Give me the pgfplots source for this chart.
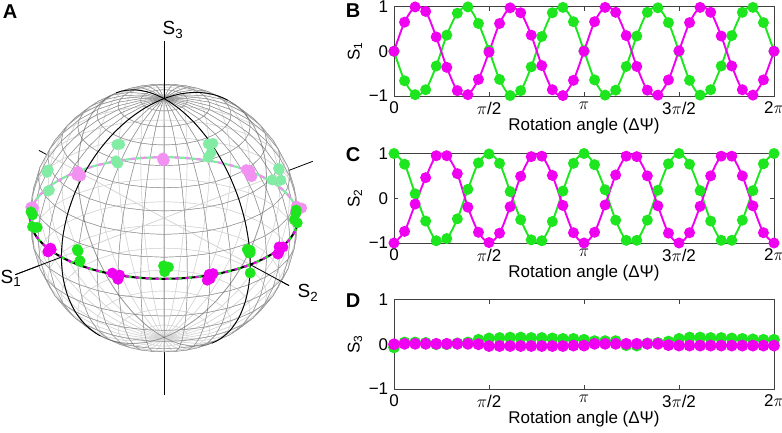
\documentclass[border=0pt]{standalone}
\usepackage{fontspec}
\setmainfont{Liberation Sans}
\usepackage{pgfplots}
\usepackage{pgfplotstable}
\pgfplotsset{compat=1.18}
\definecolor{gr}{RGB}{30,230,30}
\definecolor{mg}{RGB}{240,0,240}
\definecolor{pgr}{RGB}{130,236,165}
\definecolor{pmg}{RGB}{242,145,242}

\pgfplotstableread{
x s1g s2g s3g s1m s2m s3m
0 0.00 1.00 -0.07 0.00 -1.00 0.00
10 -0.66 0.76 0.04 0.65 -0.74 0.01
20 -0.97 0.10 0.04 0.99 -0.13 0.01
30 -0.86 -0.51 0.03 0.89 0.46 0.01
40 -0.33 -0.95 0.00 0.32 0.95 0.01
50 0.36 -0.90 0.00 -0.36 0.95 0.01
60 0.85 -0.46 0.02 -0.88 0.55 0.01
70 0.99 0.20 0.04 -0.97 -0.20 0.01
80 0.62 0.79 0.10 -0.63 -0.76 0.00
90 0.02 0.99 0.13 -0.02 -0.99 -0.04
100 -0.63 0.78 0.14 0.62 -0.78 -0.04
110 -0.99 0.15 0.15 0.97 -0.19 -0.04
120 -0.88 -0.48 0.15 0.86 0.49 -0.04
130 -0.35 -0.93 0.14 0.36 0.93 -0.04
140 0.33 -0.95 0.14 -0.32 0.94 -0.04
150 0.86 -0.52 0.13 -0.86 0.51 -0.04
160 0.98 0.16 0.12 -0.99 -0.16 -0.04
170 0.66 0.78 0.12 -0.65 -0.77 -0.03
180 0.01 1.00 0.10 0.00 -1.00 -0.03
190 -0.64 0.75 0.07 0.66 -0.76 0.01
200 -0.98 0.19 0.07 0.98 -0.15 0.01
210 -0.87 -0.49 0.07 0.87 0.52 0.01
220 -0.34 -0.94 -0.02 0.35 0.94 0.01
230 0.34 -0.94 -0.03 -0.34 0.93 0.01
240 0.87 -0.49 0.02 -0.87 0.50 0.01
250 0.97 0.18 0.03 -0.98 -0.17 0.01
260 0.64 0.77 0.06 -0.64 -0.78 -0.02
270 0.00 1.00 0.12 0.01 -1.00 -0.03
280 -0.65 0.76 0.15 0.64 -0.77 -0.03
290 -0.98 0.17 0.15 0.98 -0.18 -0.03
300 -0.86 -0.51 0.14 0.87 0.50 -0.03
310 -0.33 -0.94 0.14 0.34 0.94 -0.03
320 0.35 -0.94 0.13 -0.33 0.94 -0.03
330 0.87 -0.49 0.12 -0.86 0.50 -0.03
340 0.98 0.17 0.11 -0.98 -0.17 -0.03
350 0.64 0.77 0.10 -0.64 -0.77 -0.03
360 0.00 1.00 0.10 0.00 -1.00 -0.03
}\data

\pgfplotsset{
  panel/.style={scale only axis, width=380pt, height=89.5pt,
    xmin=0, xmax=360, ymin=-1, ymax=1,
    xtick={0,90,180,270,360},
    xticklabels={0,{$\pi$/2},{$\pi$},{3$\pi$/2},{2$\pi$}},
    ytick={-1,0,1}, yticklabels={−1,0,1},
    axis line style={black!75}, every tick/.style={black!75},
    major tick length=4pt, tick align=inside,
    xlabel={Rotation angle (ΔΨ)},
    xlabel style={at={(axis description cs:0.5,-0.335)}, anchor=center, inner sep=0pt},
    ylabel style={at={(axis description cs:-0.1026,0.5)}, anchor=center, inner sep=0pt},
    clip=false},
  gl/.style={gr, line width=1.9pt, smooth, mark=*, mark size=4.5pt, mark options={fill=gr, draw=gr}},
  ml/.style={mg, line width=1.9pt, smooth, mark=*, mark size=4.5pt, mark options={fill=mg, draw=mg}},
}

\begin{document}
\fontsize{17}{20}\selectfont
\begin{tikzpicture}
\useasboundingbox (0,0) rectangle (782pt,432pt);

% ---------------- Panel A: sphere ----------------
\begin{axis}[at={(164pt,214pt)}, anchor=center, hide axis, clip=false,
  x={(-102.6pt,-39.1pt)}, y={(86.2pt,-46.6pt)}, z={(0pt,119.4pt)},
  xmin=-1.5, xmax=1.5, ymin=-1.5, ymax=1.5, zmin=-1.5, zmax=1.5]
  \addplot3[black, line width=0.8pt] coordinates {(-1.45,0,0) (1.45,0,0)};
  \addplot3[black, line width=0.8pt] coordinates {(0,-1.45,0) (0,1.45,0)};
  \addplot3[black, line width=0.8pt] coordinates {(0,0,-1.48) (0,0,1.48)};
  \addplot3[surf, shader=faceted, z buffer=sort,
    colormap={wh}{rgb255=(255,255,255) rgb255=(255,255,255)},
    fill opacity=0.6, faceted color=black!42, line width=0.45pt,
    domain=0:360, y domain=-90:90, samples=37, samples y=19]
    ({cos(x)*cos(y)},{sin(x)*cos(y)},{sin(y)});
  % back halves
  \addplot3[black, opacity=0.3, line width=0.8pt, domain=128.4:308.4, samples=40, samples y=0] ({cos(x)},{0},{sin(x)});
  \addplot3[black, opacity=0.3, line width=0.8pt, domain=123.65:303.65, samples=40, samples y=0] ({0},{cos(x)},{sin(x)});
  \addplot3[pgr, line width=2.2pt, domain=140:320, samples=50, samples y=0] ({cos(x)},{sin(x)},{0});
  \addplot3[pmg, line width=2.2pt, dash pattern=on 5pt off 6pt, domain=140:320, samples=50, samples y=0] ({cos(x)},{sin(x)},{0});
  \addplot3[only marks, mark=*, mark size=5.2pt, pgr, mark options={fill=pgr, draw=pgr},
    restrict expr to domain={0.573*\thisrow{s1g}+0.682*\thisrow{s2g}+0.454*\thisrow{s3g}}{-3:0}]
    table[x=s1g, y=s2g, z=s3g] {\data};
  \addplot3[only marks, mark=*, mark size=5.2pt, pmg, mark options={fill=pmg, draw=pmg},
    restrict expr to domain={0.573*\thisrow{s1m}+0.682*\thisrow{s2m}+0.454*\thisrow{s3m}}{-3:0}]
    table[x=s1m, y=s2m, z=s3m] {\data};
  % front halves
  \addplot3[black, line width=0.9pt, domain=-51.6:128.4, samples=50, samples y=0] ({cos(x)},{0},{sin(x)});
  \addplot3[black, line width=0.9pt, domain=-56.35:123.65, samples=50, samples y=0] ({0},{cos(x)},{sin(x)});
  \addplot3[black, line width=2pt, domain=-40:140, samples=60, samples y=0] ({cos(x)},{sin(x)},{0});
  \addplot3[gr, line width=2.2pt, dash pattern=on 6pt off 4pt, domain=-40:140, samples=60, samples y=0] ({cos(x)},{sin(x)},{0});
  \addplot3[mg, line width=2.2pt, dash pattern=on 3pt off 7pt, domain=-40:140, samples=60, samples y=0] ({cos(x)},{sin(x)},{0});
  \addplot3[only marks, mark=*, mark size=5.2pt, gr, mark options={fill=gr, draw=gr},
    restrict expr to domain={0.573*\thisrow{s1g}+0.682*\thisrow{s2g}+0.454*\thisrow{s3g}}{0:3}]
    table[x=s1g, y=s2g, z=s3g] {\data};
  \addplot3[only marks, mark=*, mark size=5.2pt, mg, mark options={fill=mg, draw=mg},
    restrict expr to domain={0.573*\thisrow{s1m}+0.682*\thisrow{s2m}+0.454*\thisrow{s3m}}{0:3}]
    table[x=s1m, y=s2m, z=s3m] {\data};
  \addplot3[black, line width=0.8pt] coordinates {(1,0,0) (1.45,0,0)};
  \addplot3[black, line width=0.8pt] coordinates {(0,1,0) (0,1.45,0)};
  \addplot3[black, line width=0.8pt] coordinates {(0,0,1) (0,0,1.48)};
\end{axis}

% ---------------- Panel B ----------------
\begin{axis}[panel, at={(394pt,336pt)}, anchor=south west, ylabel={S\textsubscript{1}}]
  \addplot[gl] table[x=x, y=s1g] {\data};
  \addplot[ml] table[x=x, y=s1m] {\data};
\end{axis}

% ---------------- Panel C ----------------
\begin{axis}[panel, at={(394pt,189pt)}, anchor=south west, ylabel={S\textsubscript{2}}]
  \addplot[gl] table[x=x, y=s2g] {\data};
  \addplot[ml] table[x=x, y=s2m] {\data};
\end{axis}

% ---------------- Panel D ----------------
\begin{axis}[panel, at={(394pt,43pt)}, anchor=south west, ylabel={S\textsubscript{3}}]
  \addplot[gl, line width=1.2pt, mark size=5.3pt] table[x=x, y=s3g] {\data};
  \addplot[ml, line width=1.2pt, mark size=5.3pt] table[x=x, y=s3m] {\data};
\end{axis}

% labels
\begin{scope}[font=\fontsize{19}{22}\selectfont]
  \node at (11pt,154pt) {S\textsubscript{1}};
  \node at (308pt,139pt) {S\textsubscript{2}};
  \node at (173pt,402pt) {S\textsubscript{3}};
\end{scope}
\begin{scope}[font=\fontsize{20}{23}\selectfont\bfseries]
  \node at (10pt,420.5pt) {A};
  \node at (353pt,421pt) {B};
  \node at (353pt,277pt) {C};
  \node at (353pt,131pt) {D};
\end{scope}
\end{tikzpicture}
\end{document}
